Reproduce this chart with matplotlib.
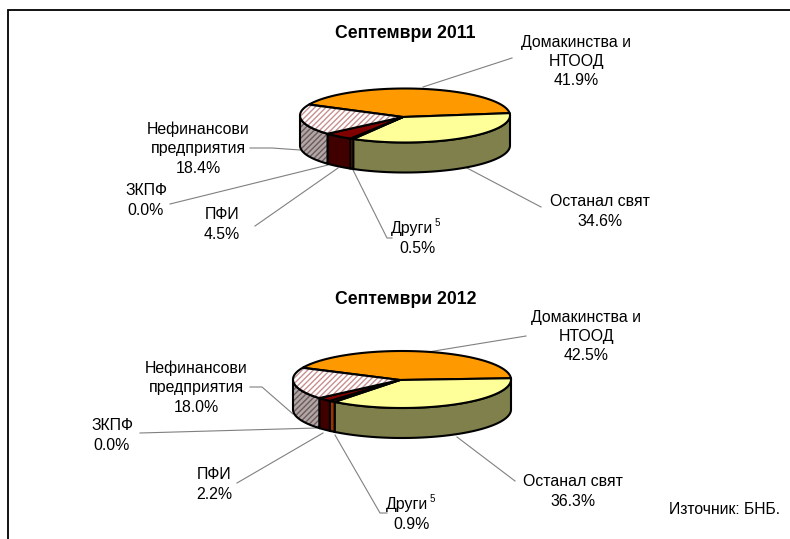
import numpy as np
import matplotlib
matplotlib.use('Agg')
import matplotlib.pyplot as plt

plt.rcParams['font.family'] = ['Liberation Sans', 'DejaVu Sans']
plt.rcParams['hatch.linewidth'] = 1.0

categories = ['Домакинства и\nНТООД', 'Останал свят', 'Други', 'ПФИ', 'ЗКПФ', 'Нефинансови\nпредприятия']
values_2011 = [41.9, 34.6, 0.5, 4.5, 0.0, 18.4]
values_2012 = [42.5, 36.3, 0.9, 2.2, 0.0, 18.0]
titles = ['Септември 2011', 'Септември 2012']
source = 'Източник: БНБ.'

top_colors = ['#FF9900', '#FFFF99', '#FF6600', '#800000', '#660066', '#FFFFFF']
side_colors = ['#804C00', '#80804C', '#993300', '#400000', '#330033', '#B0A8A8']
hatch_top = '#C89090'
hatch_side = '#705858'

# pie geometry, pixels: centre x, centre y, semi axes, depth, start angle, apex of the top face
pie_2011 = dict(cx=405, cy=115.5, a=105, b=27, depth=30, start=5, apex=(403, 117))
pie_2012 = dict(cx=402, cy=379.5, a=109, b=28.5, depth=30, start=2.5, apex=(400, 380))

# label centres and leader lines for each pie, same order as categories
text_2011 = [(576, 61), (600, 211), (417, 238), (222, 224), (146, 200), (198, 148)]
lead_2011 = [[(423, 87), (512, 58)], [(467, 168), (541, 207)], [(353, 170), (387, 238), (392, 238)],
             [(338, 168), (255, 226)], [(328, 165), (170, 204)], [(300, 150), (272, 148), (250, 148)]]
text_2012 = [(586, 336), (573, 491), (412, 514), (214, 484), (112, 435), (196, 387)]
lead_2012 = [[(428, 352), (526, 336)], [(457, 437), (515, 481)], [(335, 435), (380, 513), (387, 513)],
             [(323, 433), (237, 483)], [(317, 428), (140, 433)], [(293, 414), (262, 387), (250, 387)]]

fig = plt.figure(figsize=(7.9, 5.39), dpi=100)
ax = fig.add_axes([0, 0, 1, 1])
ax.set_xlim(0, 790)
ax.set_ylim(539, 0)
ax.axis('off')


def arc(p, t1, t2, dy=0):
    t = np.radians(np.linspace(t1, t2, 120))
    return p['cx'] + p['a'] * np.cos(t), p['cy'] + dy - p['b'] * np.sin(t)


def shape(xs, ys, color, hatch_color, z):
    if hatch_color:
        ax.fill(xs, ys, facecolor=color, edgecolor=hatch_color, hatch='//////', lw=0, zorder=z)
        ax.fill(xs, ys, facecolor='none', edgecolor='black', lw=1.5, zorder=z + 0.1)
    else:
        ax.fill(xs, ys, facecolor=color, edgecolor='black', lw=1.5, zorder=z)


def draw_pie(p, values):
    # slices run clockwise on the page; the first one goes over the back
    first = p['start'] + values[0] * 3.6
    bounds = first - np.concatenate([[0], np.cumsum(values)]) * 3.6

    for i in range(len(values)):
        if values[i] == 0:
            continue
        t1, t2 = bounds[i], bounds[i + 1]
        x, y = arc(p, t1, t2)
        shape(np.r_[p['apex'][0], x], np.r_[p['apex'][1], y], top_colors[i], hatch_top if i == 5 else None, 3)

        # side wall, only the front half of the ellipse shows
        hi, lo = min(t1, 0), max(t2, -180)
        if hi > lo:
            x1, y1 = arc(p, hi, lo)
            x2, y2 = arc(p, lo, hi, p['depth'])
            shape(np.r_[x1, x2], np.r_[y1, y2], side_colors[i], hatch_side if i == 5 else None, 2)


def draw_labels(values, text_pos, leads):
    for name, v, (x, y), line in zip(categories, values, text_pos, leads):
        ax.plot([q[0] for q in line], [q[1] for q in line], color='#808080', lw=0.8, zorder=1)
        if name == 'Други':
            ax.text(x + 16, y - 10, name, ha='right', va='center', fontsize=11.4, zorder=5)
            ax.text(x + 18, y - 15, '5', ha='left', va='center', fontsize=7, zorder=5)
            ax.text(x, y + 10.5, '%.1f%%' % v, ha='center', va='center', fontsize=11.4, zorder=5)
        else:
            ax.text(x, y + 0.5, name + '\n%.1f%%' % v, ha='center', va='center', fontsize=11.4,
                    linespacing=1.36, zorder=5)


draw_pie(pie_2011, values_2011)
draw_pie(pie_2012, values_2012)
draw_labels(values_2011, text_2011, lead_2011)
draw_labels(values_2012, text_2012, lead_2012)

ax.text(405, 33, titles[0], ha='center', va='center', fontsize=12.7, fontweight='bold')
ax.text(406, 299, titles[1], ha='center', va='center', fontsize=12.7, fontweight='bold')
ax.text(780, 510, source, ha='right', va='center', fontsize=11.3)

# frame on the top and left only
ax.plot([790, 8, 8], [10, 10, 539], color='black', lw=1.3, solid_joinstyle='miter', clip_on=False)

fig.savefig('out.png', dpi=100)
